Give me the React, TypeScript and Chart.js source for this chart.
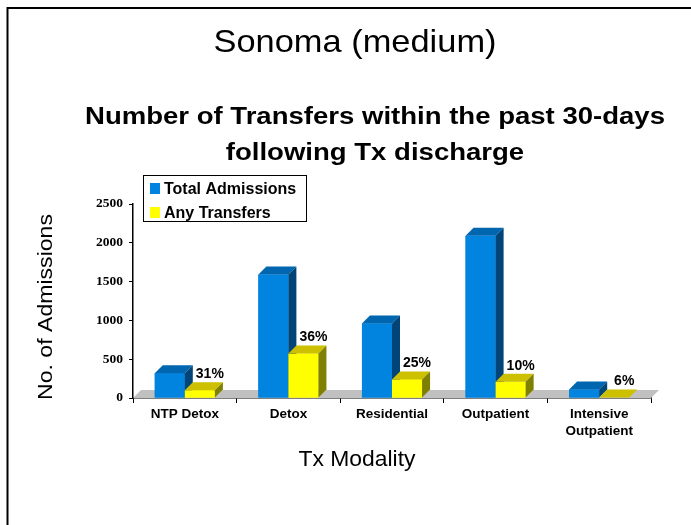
import React, { useEffect, useRef } from 'react';
import { Chart, registerables } from 'chart.js';

Chart.register(...registerables);

// ---- data ----
const categories: (string | string[])[] = ['NTP Detox', 'Detox', 'Residential', 'Outpatient', ['Intensive', 'Outpatient']];
const totalAdmissions = [320, 1590, 960, 2090, 110];
const anyTransfers = [100, 572, 240, 209, 7];
const transferPctLabels = ['31%', '36%', '25%', '10%', '6%'];
const seriesNames = ['Total Admissions', 'Any Transfers'];
const yMin = 0;
const yMax = 2500;
const yStep = 500;

const titleText = 'Sonoma (medium)';
const subtitleLines = ['Number of Transfers within the past 30-days', 'following Tx discharge'];
const xTitle = 'Tx Modality';
const yTitle = 'No. of Admissions';

// ---- style ----
const SANS = '"Liberation Sans", Arial, sans-serif';
const SERIF = '"Liberation Serif", "Times New Roman", serif';
const DEPTH = 8;
const faces = [
  { front: '#0084E0', top: '#0066B0', side: '#004478' },
  { front: '#FFFF00', top: '#CCC000', side: '#808000' },
];

function drawFitted(
  ctx: CanvasRenderingContext2D,
  text: string,
  x: number,
  y: number,
  font: string,
  sx: number
) {
  ctx.save();
  ctx.font = font;
  ctx.translate(x, y);
  ctx.scale(sx, 1);
  ctx.textAlign = 'center';
  ctx.textBaseline = 'alphabetic';
  ctx.fillText(text, 0, 0);
  ctx.restore();
}

function scaleFor(ctx: CanvasRenderingContext2D, text: string, font: string, target: number) {
  ctx.save();
  ctx.font = font;
  const w = ctx.measureText(text).width;
  ctx.restore();
  return w > 0 ? target / w : 1;
}

const decorPlugin = {
  id: 'decor',
  beforeDraw(chart: any) {
    const ctx: CanvasRenderingContext2D = chart.ctx;
    ctx.save();
    ctx.fillStyle = '#FFFFFF';
    ctx.fillRect(0, 0, chart.width, chart.height);
    ctx.strokeStyle = '#000000';
    ctx.lineWidth = 2;
    ctx.beginPath();
    ctx.moveTo(7.5, chart.height);
    ctx.lineTo(7.5, 8);
    ctx.lineTo(chart.width, 8);
    ctx.stroke();
    ctx.restore();
  },
  beforeDatasetsDraw(chart: any) {
    const ctx: CanvasRenderingContext2D = chart.ctx;
    const { left, right, bottom } = chart.chartArea;
    ctx.save();
    ctx.fillStyle = '#C0C0C0';
    ctx.beginPath();
    ctx.moveTo(left, bottom);
    ctx.lineTo(right, bottom);
    ctx.lineTo(right + DEPTH, bottom - DEPTH);
    ctx.lineTo(left + DEPTH, bottom - DEPTH);
    ctx.closePath();
    ctx.fill();
    ctx.restore();
  },
  afterDatasetsDraw(chart: any) {
    const ctx: CanvasRenderingContext2D = chart.ctx;
    const metas = [chart.getDatasetMeta(0), chart.getDatasetMeta(1)];
    ctx.save();
    for (let i = 0; i < categories.length; i++) {
      for (let d = 0; d < 2; d++) {
        const el = metas[d].data[i];
        const { x, y, base, width } = el.getProps(['x', 'y', 'base', 'width'], true);
        const l = x - width / 2;
        const r = x + width / 2;
        const f = faces[d];
        ctx.fillStyle = f.front;
        ctx.fillRect(l, y, width, base - y);
        ctx.fillStyle = f.top;
        ctx.beginPath();
        ctx.moveTo(l, y);
        ctx.lineTo(l + DEPTH, y - DEPTH);
        ctx.lineTo(r + DEPTH, y - DEPTH);
        ctx.lineTo(r, y);
        ctx.closePath();
        ctx.fill();
        ctx.fillStyle = f.side;
        ctx.beginPath();
        ctx.moveTo(r, y);
        ctx.lineTo(r + DEPTH, y - DEPTH);
        ctx.lineTo(r + DEPTH, base - DEPTH);
        ctx.lineTo(r, base);
        ctx.closePath();
        ctx.fill();
      }
    }
    // percentage labels
    ctx.fillStyle = '#000';
    ctx.font = `bold 14px ${SANS}`;
    ctx.textAlign = 'center';
    ctx.textBaseline = 'middle';
    metas[1].data.forEach((el: any, i: number) => {
      const { x, y } = el.getProps(['x', 'y'], true);
      ctx.fillText(transferPctLabels[i], x + 10, y - 16);
    });
    ctx.restore();
  },
  afterDraw(chart: any) {
    const ctx: CanvasRenderingContext2D = chart.ctx;
    ctx.save();
    ctx.fillStyle = '#000';
    // main title
    const tFont = `32px ${SANS}`;
    drawFitted(ctx, titleText, 355, 52, tFont, scaleFor(ctx, titleText, tFont, 283));
    // subtitle
    const sFont = `bold 23px ${SANS}`;
    const sx = scaleFor(ctx, subtitleLines[0], sFont, 580);
    drawFitted(ctx, subtitleLines[0], 375, 124, sFont, sx);
    drawFitted(ctx, subtitleLines[1], 375, 160, sFont, sx);
    // x title
    const xFont = `22px ${SANS}`;
    drawFitted(ctx, xTitle, 357, 466, xFont, scaleFor(ctx, xTitle, xFont, 117));
    // y title
    const yFont = `21px ${SANS}`;
    const ys = scaleFor(ctx, yTitle, yFont, 186);
    ctx.save();
    ctx.translate(52, 307);
    ctx.rotate(-Math.PI / 2);
    drawFitted(ctx, yTitle, 0, 0, yFont, ys);
    ctx.restore();
    // legend
    ctx.strokeStyle = '#000';
    ctx.lineWidth = 1;
    ctx.strokeRect(143.5, 175.5, 163, 46);
    ctx.font = `bold 16px ${SANS}`;
    ctx.textAlign = 'left';
    ctx.textBaseline = 'alphabetic';
    const rows = [194, 218];
    seriesNames.forEach((name, i) => {
      ctx.fillStyle = faces[i].front;
      ctx.fillRect(150, rows[i] - 11, 10, 11);
      ctx.fillStyle = '#000';
      ctx.fillText(name, 164, rows[i]);
    });
    ctx.restore();
  },
};

export default function App() {
  const ref = useRef<HTMLCanvasElement | null>(null);
  useEffect(() => {
    if (!ref.current) return;
    Chart.defaults.color = '#000';
    const chart = new Chart(ref.current, {
      type: 'bar',
      data: {
        labels: categories,
        datasets: [
          { label: seriesNames[0], data: totalAdmissions, backgroundColor: faces[0].front, borderWidth: 0 },
          { label: seriesNames[1], data: anyTransfers, backgroundColor: faces[1].front, borderWidth: 0 },
        ],
      },
      options: {
        animation: false,
        responsive: false,
        devicePixelRatio: 1,
        layout: { padding: { left: 93, right: 40, top: 204, bottom: 67 } },
        datasets: { bar: { categoryPercentage: 0.58, barPercentage: 1 } },
        plugins: {
          legend: { display: false },
          title: { display: false },
          tooltip: { enabled: false },
        },
        scales: {
          x: {
            grid: { offset: true, drawOnChartArea: false, drawTicks: true, tickLength: 5, color: '#000', lineWidth: 1 },
            border: { display: true, color: '#000', width: 1.5 },
            ticks: {
              color: '#000',
              font: { family: SANS, weight: 'bold', size: 13.5, lineHeight: 1.25 },
              padding: 3,
              maxRotation: 0,
              minRotation: 0,
              autoSkip: false,
            },
            afterFit: (s: any) => {
              s.height = 60;
            },
          },
          y: {
            min: yMin,
            max: yMax,
            ticks: {
              stepSize: yStep,
              color: '#000',
              font: { family: SERIF, weight: 'bold', size: 13.5 },
              padding: 6,
              callback: (v: any) => String(v),
            },
            grid: { drawOnChartArea: false, drawTicks: true, tickLength: 4, color: '#000' },
            border: { display: true, color: '#000', width: 1.5 },
            afterFit: (s: any) => {
              s.width = 40;
            },
          },
        },
      } as any,
      plugins: [decorPlugin],
    });
    return () => chart.destroy();
  }, []);

  return (
    <div style={{ position: 'absolute', left: 0, top: 0, width: 691, height: 525, background: '#fff' }}>
      <canvas ref={ref} width={691} height={525} style={{ display: 'block', width: 691, height: 525 }} />
    </div>
  );
}
